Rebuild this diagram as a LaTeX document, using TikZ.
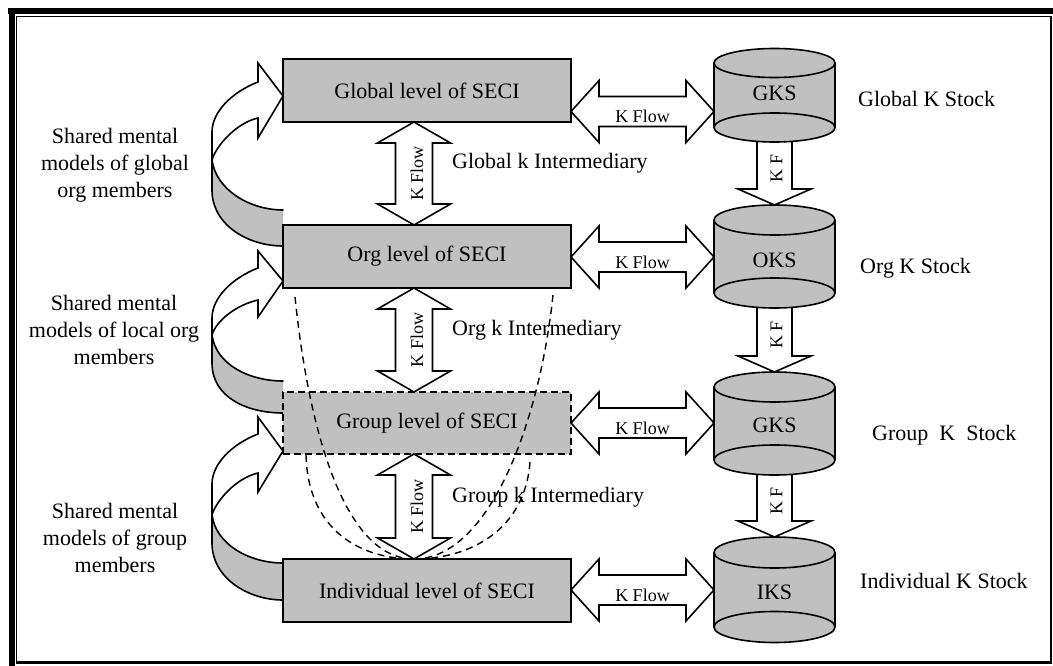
\documentclass[tikz,border=0pt]{standalone}
\usepackage{fontspec}
\setmainfont{Liberation Serif}
\usetikzlibrary{calc}
\definecolor{boxgray}{HTML}{C0C0C0}

% curved ribbon arrow on the left: barb top, shaft top, tip, shaft bottom,
% barb bottom, inner fold, outer fold, back inner end, back outer end
\newcommand\bentarrow[9]{%
  \fill[bandback] (212,#6) .. controls (216,{#6+30}) and (250,#8) .. (283,#8)
     -- (283,#9) .. controls (248,#9) and (212,{#7+35}) .. (212,#7) -- cycle;
  \draw[bandline] (212,#6) .. controls (216,{#6+30}) and (250,#8) .. (283,#8);
  \draw[bandline] (212,#7) .. controls (212,{#7+35}) and (248,#9) .. (283,#9);
  \draw[bandline] (212,#6) -- (212,#7);
  \path[bandfront] (258,#2) .. controls (232,{#2+10}) and (212,{#2+30}) .. (212,{#2+50})
     -- (212,#6) .. controls (216,{#6-14}) and (236,{#4+5}) .. (258,#4)
     -- (258,#5) -- (283,#3) -- (258,#1) -- cycle;
}

% vertical two-headed flow between two SECI levels
\newcommand\vflow[2]{%
  \draw[blockarrow] (#1.south -| vx) -- ++(36.5,21) -- ++(-18,0)
     -- ($(#2.north -| vx)+(18.5,-21)$) -- ++(18,0) -- (#2.north -| vx)
     -- ++(-36.5,-21) -- ++(18,0) -- ($(#1.south -| vx)+(-18.5,21)$)
     -- ++(-18,0) -- cycle;
  \node[flowlabel,rotate=90] (#1v) at ($(#1.south -| vx)!0.5!(#2.north -| vx)+(3,0)$) {K Flow};
}

% horizontal two-headed flow from a SECI level to its stock
\newcommand\hflow[3]{%
  \coordinate (hy) at (0,#3);
  \coordinate (hl) at (#1.east |- hy);
  \coordinate (hr) at (#2.west |- hy);
  \draw[blockarrow] (hl) -- ++(28,-31) -- ++(0,16) -- ($(hr)+(-28,-15)$)
     -- ++(0,-16) -- (hr) -- ++(-28,31) -- ++(0,-16) -- ($(hl)+(28,15)$)
     -- ++(0,16) -- cycle;
  \node[flowlabel] (#1h) at ($(hl)!0.5!(hr)+(0,5)$) {K Flow};
}

% downward flow between two stocks
\newcommand\kflow[2]{%
  \draw[blockarrow] ($(#1.south)+(-17.5,-3)$) -- ($(#2.north)+(-17.5,-16)$)
     -- ++(-19,0) -- (#2.north) -- ++(36.5,-16) -- ++(-19,0)
     -- ($(#1.south)+(17.5,-3)$);
  \node[flowlabel,rotate=90] (#1k) at ($(#1.south)!0.42!(#2.north)+(2,0)$) {K F};
}

\begin{document}
\begin{tikzpicture}[x=1pt,y=-1pt,
  secibox/.style={draw,line width=1.8pt,fill=boxgray,minimum width=288pt,
    minimum height=63pt,inner sep=0pt,outer sep=0pt,font=\fontsize{22}{26}\selectfont},
  groupbox/.style={secibox,minimum height=62pt,dash pattern=on 7pt off 4pt},
  blockarrow/.style={draw,fill=white,line width=1.6pt,line join=miter},
  flowlabel/.style={font=\fontsize{18}{20}\selectfont,inner sep=0pt},
  stockframe/.style={inner sep=0pt,outer sep=0pt,minimum width=121pt},
  stockline/.style={draw,line width=1.6pt},
  stocklabel/.style={font=\fontsize{22}{24}\selectfont,inner sep=0pt},
  sidetext/.style={font=\fontsize{22}{27}\selectfont,align=center,inner sep=0pt},
  tagtext/.style={font=\fontsize{22}{24}\selectfont,anchor=west,inner sep=0pt},
  guide/.style={line width=1.4pt,dash pattern=on 7pt off 5pt},
  bandfront/.style={fill=white,draw,line width=1.6pt,line join=miter},
  bandback/.style={fill=boxgray},
  bandline/.style={draw,line width=1.6pt,line cap=round},
]
\useasboundingbox (0,0) rectangle (1053,666);

% page frame: thick-thin rule
\fill (8,8) rectangle (1053,14);
\fill (8.5,8) rectangle (14.5,666);
\draw[line width=1.3pt] (16,16.7) -- (1052,16.7);
\draw[line width=1.3pt] (16.7,16) -- (16.7,663.5);
\fill (1050,16) rectangle (1052.3,664);
\fill (16,661.3) rectangle (1052.3,663.8);

% shared mental model ribbons
\bentarrow{63}{82}{96}{118}{138}{160}{190}{210}{246}
\bentarrow{251}{268}{281}{300}{317}{335}{363}{381}{413}
\bentarrow{417}{434}{451}{473}{492}{515}{543}{563}{600}

% SECI levels
\node[secibox]  (gl)  at (427,90.5)  {Global level of SECI};
\node[secibox]  (org) at (427,256.5) {Org level of SECI};
\node[groupbox] (grp) at (427,423)   {Group level of SECI};
\node[secibox]  (ind) at (427,590.5) {Individual level of SECI};

% knowledge stocks (anchors)
\foreach \n/\yt/\yb/\r in {c1/63/127.5/14.5, c2/220/293/15, c3/387/460/15, c4/552.5/627/15.5}
  \node[stockframe,minimum height={(\yb-\yt+2*\r)*1pt}] (\n) at (774.5,{(\yt+\yb)/2}) {};

% flows between levels
\coordinate (vx) at (414,0);
\vflow{gl}{org}
\vflow{org}{grp}
\vflow{grp}{ind}

% flows between levels and stocks
\hflow{gl}{c1}{111.5}
\hflow{org}{c2}{257}
\hflow{grp}{c3}{423}
\hflow{ind}{c4}{590}

% flows between stocks
\kflow{c1}{c2}
\kflow{c2}{c3}
\kflow{c3}{c4}

% stock cylinders
\foreach \yt/\yb/\r in {63/127.5/14.5, 220/293/15, 387/460/15, 552.5/627/15.5} {
  \fill[boxgray] (714,\yt) -- (714,\yb) arc[start angle=180,end angle=0,x radius=60.5,y radius=\r]
     -- (835,\yt) arc[start angle=0,end angle=-180,x radius=60.5,y radius=\r] -- cycle;
  \draw[stockline] (774.5,\yt) ellipse[x radius=60.5,y radius=\r];
  \draw[stockline] (774.5,\yb) ellipse[x radius=60.5,y radius=\r];
  \draw[stockline] (714,\yt) -- (714,\yb) (835,\yt) -- (835,\yb);
}
\node[stocklabel] (c1t) at (774.5,93)  {GKS};
\node[stocklabel] (c2t) at (774.5,260) {OKS};
\node[stocklabel] (c3t) at (774.5,425) {GKS};
\node[stocklabel] (c4t) at (774.5,592) {IKS};

% tacit knowledge paths converging on the individual
\coordinate (meet) at (414,559);
\draw[guide] (295,297) .. controls (307,415) and (340,559) .. (meet);
\draw[guide] (553,295) .. controls (540,420) and (490,559) .. (meet);
\draw[guide] (306,455) .. controls (308,530) and (360,559) .. (meet);
\draw[guide] (530,462) .. controls (525,530) and (470,559) .. (meet);

% side captions
\node[sidetext] (s1) at (115,165) {Shared mental\\models of global\\org members};
\node[sidetext] (s2) at (114,330) {Shared mental\\models of local org\\members};
\node[sidetext] (s3) at (115,538) {Shared mental\\models of group\\members};

\node[tagtext] (i1) at (452,163) {Global k Intermediary};
\node[tagtext] (i2) at (452,330) {Org k Intermediary};
\node[tagtext] (i3) at (452,497) {Group k Intermediary};

\node[tagtext] (k1) at (858,99)  {Global K Stock};
\node[tagtext] (k2) at (860,268) {Org K Stock};
\node[tagtext] (k3) at (872,435) {Group\ \ K\ \ Stock};
\node[tagtext] (k4) at (860,581) {Individual K Stock};
\end{tikzpicture}
\end{document}
